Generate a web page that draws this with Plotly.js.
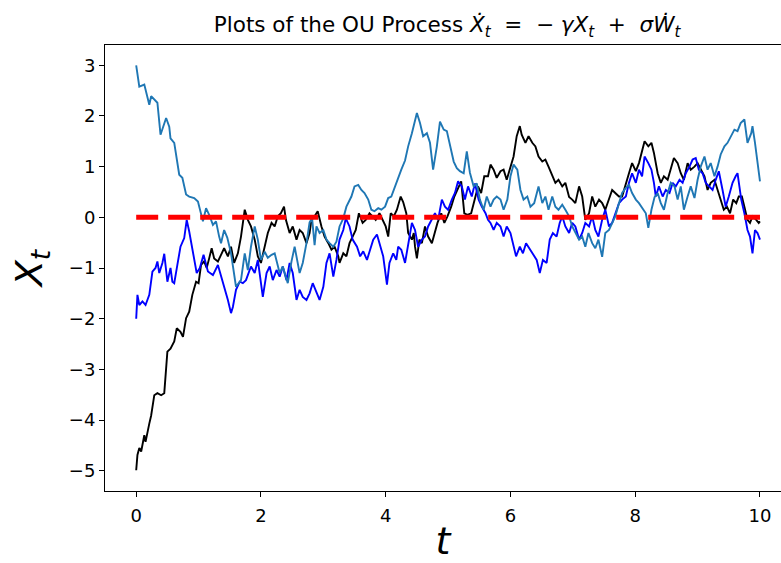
<!DOCTYPE html>
<html>
<head>
<meta charset="utf-8">
<script src="https://cdn.plot.ly/plotly-3.0.1.min.js"></script>
<style>html,body{margin:0;padding:0;background:#fff;}#chart{width:781px;height:563px;}</style>
</head>
<body>
<div id="chart"></div>
<script>
// Path started at X0 = -5 (black)
const tBlack = [0,0.02,0.05,0.08,0.13,0.15,0.21,0.24,0.29,0.34,0.40,0.45,0.50,0.55,0.61,0.65,0.71,0.75,0.80,0.85,0.90,0.96,1.00,1.04,1.09,1.13,1.17,1.21,1.25,1.31,1.36,1.41,1.47,1.52,1.57,1.63,1.68,1.71,1.74,1.79,1.84,1.90,1.95,2.00,2.06,2.11,2.17,2.22,2.27,2.32,2.37,2.40,2.46,2.51,2.57,2.62,2.67,2.73,2.78,2.81,2.86,2.91,2.97,3.02,3.08,3.13,3.18,3.24,3.26,3.32,3.37,3.42,3.47,3.52,3.57,3.63,3.68,3.74,3.79,3.84,3.90,3.95,4.00,4.04,4.08,4.13,4.18,4.24,4.28,4.33,4.36,4.42,4.45,4.47,4.50,4.54,4.58,4.63,4.68,4.74,4.78,4.83,4.89,4.94,4.99,5.05,5.10,5.15,5.21,5.26,5.31,5.37,5.42,5.48,5.53,5.58,5.64,5.68,5.73,5.78,5.84,5.89,5.94,6.00,6.05,6.10,6.15,6.18,6.24,6.29,6.35,6.40,6.45,6.51,6.56,6.61,6.67,6.72,6.77,6.83,6.88,6.94,6.99,7.04,7.10,7.15,7.20,7.26,7.31,7.36,7.42,7.47,7.52,7.58,7.63,7.68,7.74,7.79,7.85,7.90,7.95,8.01,8.06,8.11,8.15,8.21,8.26,8.30,8.36,8.41,8.46,8.52,8.57,8.62,8.68,8.73,8.78,8.84,8.89,8.95,9.00,9.05,9.11,9.16,9.21,9.27,9.32,9.37,9.42,9.47,9.52,9.57,9.62,9.66,9.71,9.75,9.80,9.84,9.88,9.94,9.98,10.0];
const xBlack = [-4.99,-4.69,-4.55,-4.62,-4.30,-4.43,-4.07,-3.91,-3.51,-3.47,-3.51,-3.47,-2.65,-2.59,-2.45,-2.19,-2.26,-2.36,-1.99,-1.86,-1.53,-1.27,-1.30,-0.94,-0.87,-1.00,-0.81,-0.61,-0.81,-0.87,-0.74,-0.61,-0.77,-0.58,-0.90,-0.71,-0.38,-0.05,0.15,-0.05,-0.18,-0.44,-0.77,-0.90,-0.58,-0.31,-0.11,-0.18,0.02,0.08,0.21,-0.05,-0.31,-0.18,-0.44,-0.25,-0.31,-0.51,-0.31,-0.05,0.02,0.12,-0.18,-0.38,-0.51,-0.64,-0.58,-0.77,-0.90,-0.71,-0.77,-0.51,-0.38,-0.25,0.08,-0.11,-0.05,0.08,0.02,-0.05,0.08,-0.05,-0.18,-0.38,0.08,0.02,0.15,0.41,0.30,0.08,-0.31,-0.44,-0.31,-0.58,-0.81,-0.44,-0.51,-0.18,-0.38,-0.51,-0.31,-0.11,0.08,-0.11,0.02,0.21,0.41,0.54,0.71,0.08,0.05,0.08,0.35,0.61,0.48,0.81,0.81,1.04,0.94,0.78,0.91,0.94,0.74,1.00,1.20,1.60,1.80,1.63,1.47,1.60,1.47,1.40,1.20,1.10,1.14,1.00,0.81,0.68,0.74,0.61,0.68,0.40,0.35,0.28,0.61,0.41,-0.05,0.08,0.41,0.21,0.35,0.28,0.15,0.35,0.54,0.48,0.41,0.41,0.68,0.87,1.07,0.91,1.07,1.33,1.50,1.40,1.47,1.27,0.87,0.68,0.81,0.74,0.94,1.17,1.07,0.87,0.74,1.07,0.94,1.00,1.07,0.94,0.81,0.54,0.68,0.74,0.54,0.35,0.15,0.21,0.08,0.35,0.28,0.41,0.41,0.21,-0.05,-0.11,0.02,-0.05,-0.11,-0.08];

// Path started at X0 = -2 (blue)
const tBlue = [0,0.01,0.02,0.05,0.10,0.15,0.21,0.26,0.31,0.34,0.37,0.42,0.45,0.50,0.55,0.58,0.61,0.66,0.71,0.77,0.81,0.85,0.90,0.93,0.97,1.02,1.08,1.15,1.23,1.31,1.36,1.41,1.47,1.52,1.55,1.60,1.66,1.71,1.76,1.84,1.90,1.95,2.00,2.03,2.09,2.14,2.19,2.25,2.30,2.35,2.41,2.46,2.51,2.57,2.62,2.67,2.73,2.78,2.83,2.89,2.94,3.00,3.05,3.10,3.16,3.21,3.26,3.32,3.36,3.42,3.47,3.54,3.59,3.64,3.70,3.75,3.80,3.86,3.91,3.96,4.02,4.06,4.12,4.17,4.20,4.25,4.31,4.36,4.42,4.47,4.52,4.58,4.63,4.68,4.74,4.79,4.84,4.90,4.95,5.00,5.06,5.11,5.16,5.22,5.27,5.32,5.38,5.43,5.49,5.54,5.60,5.64,5.68,5.73,5.78,5.84,5.89,5.94,6.00,6.05,6.09,6.15,6.20,6.25,6.32,6.38,6.42,6.47,6.52,6.58,6.63,6.68,6.74,6.79,6.83,6.88,6.94,6.99,7.04,7.10,7.15,7.20,7.26,7.31,7.36,7.41,7.47,7.52,7.58,7.63,7.68,7.74,7.79,7.85,7.90,7.95,8.01,8.06,8.11,8.15,8.21,8.26,8.30,8.33,8.38,8.44,8.49,8.55,8.60,8.65,8.71,8.76,8.81,8.87,8.92,8.97,9.02,9.08,9.13,9.18,9.24,9.29,9.34,9.40,9.45,9.50,9.56,9.61,9.64,9.67,9.70,9.75,9.80,9.84,9.88,9.92,9.96,10.0];
const xBlue = [-2.00,-1.80,-1.53,-1.73,-1.66,-1.73,-1.53,-1.07,-1.00,-0.87,-1.10,-0.90,-0.72,-1.27,-1.00,-1.27,-1.30,-0.94,-0.58,-0.41,-0.05,-0.28,-0.61,-0.81,-1.10,-1.00,-0.74,-1.07,-1.14,-0.94,-1.14,-1.37,-1.63,-1.89,-1.77,-1.43,-1.27,-1.30,-1.24,-0.97,-1.10,-0.84,-1.37,-1.57,-1.10,-0.97,-1.24,-1.04,-1.17,-0.97,-1.24,-0.90,-1.10,-1.63,-1.43,-1.57,-1.63,-1.50,-1.30,-1.50,-1.63,-1.37,-0.90,-0.71,-1.17,-0.84,-0.44,-0.25,-0.02,-0.18,-0.44,-0.58,-0.77,-0.67,-0.84,-0.64,-0.44,-0.34,-0.58,-0.77,-1.33,-0.90,-0.71,-0.84,-0.58,-0.64,-0.90,-0.51,-0.11,-0.25,-0.58,-0.44,-0.38,-0.18,-0.05,0.08,-0.05,0.35,0.21,0.15,0.35,0.48,0.71,0.61,0.35,0.61,0.41,0.67,0.35,0.21,0.08,-0.05,-0.11,-0.25,-0.11,-0.18,-0.38,-0.18,-0.31,-0.58,-0.77,-0.58,-0.71,-0.51,-0.64,-0.77,-0.84,-1.10,-0.84,-0.90,-0.44,-0.31,-0.38,-0.11,0.02,-0.18,-0.31,-0.11,-0.18,-0.44,-0.31,-0.11,-0.18,0.02,-0.25,-0.38,-0.05,0.15,-0.18,-0.11,0.08,0.28,0.35,0.41,0.68,0.87,0.68,0.94,0.81,1.20,1.07,0.94,0.68,0.41,0.61,0.41,0.54,0.48,0.68,0.61,0.74,0.68,0.87,1.00,1.14,1.17,0.94,0.87,0.68,0.61,0.54,0.74,0.91,0.54,0.21,0.41,0.68,0.81,0.87,0.61,0.35,0.08,-0.25,-0.38,-0.71,-0.25,-0.31,-0.44];

// Path started at X0 = 3 (default colour)
const tLight = [0,0.05,0.13,0.16,0.21,0.24,0.34,0.39,0.48,0.53,0.55,0.61,0.66,0.69,0.74,0.80,0.85,0.93,0.99,1.07,1.12,1.17,1.23,1.28,1.33,1.36,1.41,1.46,1.52,1.60,1.68,1.74,1.79,1.84,1.90,1.95,2.00,2.06,2.11,2.17,2.22,2.30,2.35,2.43,2.49,2.54,2.62,2.67,2.73,2.78,2.82,2.86,2.89,2.94,3.00,3.05,3.10,3.16,3.21,3.26,3.32,3.37,3.45,3.50,3.56,3.61,3.66,3.72,3.77,3.82,3.88,3.93,3.99,4.04,4.09,4.15,4.20,4.25,4.31,4.36,4.42,4.47,4.50,4.55,4.60,4.66,4.71,4.76,4.82,4.87,4.93,4.98,5.03,5.09,5.14,5.19,5.25,5.30,5.35,5.41,5.46,5.51,5.57,5.62,5.68,5.73,5.78,5.84,5.89,5.95,6.00,6.05,6.11,6.16,6.21,6.27,6.32,6.38,6.45,6.51,6.56,6.61,6.67,6.72,6.77,6.83,6.88,6.94,6.99,7.04,7.10,7.15,7.20,7.25,7.31,7.36,7.41,7.47,7.52,7.58,7.63,7.68,7.74,7.79,7.85,7.90,7.95,8.01,8.06,8.11,8.17,8.21,8.26,8.31,8.36,8.41,8.46,8.52,8.57,8.63,8.68,8.73,8.78,8.84,8.89,8.95,9.00,9.05,9.11,9.16,9.21,9.27,9.32,9.37,9.43,9.48,9.53,9.59,9.64,9.69,9.75,9.80,9.86,9.88,9.92,9.96,10.0];
const xLight = [3.00,2.58,2.62,2.49,2.22,2.39,2.26,1.63,1.96,1.79,1.56,1.47,1.04,0.84,0.78,0.45,0.41,0.38,0.31,-0.08,0.18,0.05,-0.15,-0.08,-0.38,-0.51,-0.25,-0.40,-0.71,-1.37,-1.24,-0.71,-1.04,-0.58,-0.18,-0.44,-0.84,-0.68,-0.80,-0.74,-0.71,-1.10,-0.97,-1.30,-0.87,-0.58,-1.10,-0.90,-0.51,-0.10,-0.02,-0.55,-0.18,-0.31,-0.25,-0.44,-0.51,-0.58,-0.48,-0.18,-0.02,0.21,0.41,0.61,0.64,0.54,0.48,0.35,0.15,0.12,0.18,0.15,0.21,0.38,0.41,0.61,0.81,0.94,1.12,1.40,1.66,1.93,2.06,1.86,1.60,1.66,1.47,0.94,1.40,1.89,1.73,1.70,1.40,1.10,0.97,0.91,0.87,1.30,0.88,0.61,0.67,0.35,0.15,0.41,0.21,0.35,0.41,0.35,0.15,0.35,0.81,1.04,0.94,0.54,0.35,0.41,0.21,0.28,0.61,0.28,0.41,0.15,0.41,0.21,0.15,0.25,0.15,0.02,-0.18,-0.31,-0.44,-0.38,-0.58,-0.31,-0.51,-0.61,-0.44,-0.78,-0.31,-0.25,-0.11,0.02,0.28,0.48,0.58,0.64,0.48,0.35,0.28,0.18,0.08,-0.21,0.15,0.40,0.48,0.28,0.15,0.48,0.68,0.61,0.35,0.61,0.15,0.41,0.61,0.38,0.74,1.00,1.20,0.94,1.07,0.81,1.00,1.24,1.40,1.47,1.60,1.73,1.70,1.86,1.93,1.47,1.66,1.80,1.47,1.14,0.71];

// Long-run mean
const tMean = [0, 10];
const xMean = [0, 0];

const traces = [
  {x: tBlack, y: xBlack, type: 'scatter', mode: 'lines', line: {color: '#000000', width: 1.9}, hoverinfo: 'skip'},
  {x: tBlue, y: xBlue, type: 'scatter', mode: 'lines', line: {color: '#0000ff', width: 1.9}, hoverinfo: 'skip'},
  {x: tLight, y: xLight, type: 'scatter', mode: 'lines', line: {color: '#1f77b4', width: 1.9}, hoverinfo: 'skip'},
  {x: tMean, y: xMean, type: 'scatter', mode: 'lines', line: {color: '#ff0000', width: 5, dash: '22px,10px'}, hoverinfo: 'skip'}
];

const font = 'DejaVu Sans, sans-serif';
const layout = {
  width: 781, height: 563,
  margin: {l: 105, r: 0, t: 45, b: 72, pad: 0},
  paper_bgcolor: '#ffffff', plot_bgcolor: '#ffffff',
  showlegend: false,
  font: {family: font, color: '#000000', size: 18},
  title: {
    text: 'Plots of the OU Process <i>Ẋ</i><sub><i>t</i></sub>&nbsp; =&nbsp; −&nbsp;<i>γX</i><sub><i>t</i></sub>&nbsp; +&nbsp; <i>σẆ</i><sub><i>t</i></sub>',
    font: {family: font, size: 21.5, color: '#000000'},
    x: 0.506, xref: 'paper', xanchor: 'center',
    y: 1, yref: 'paper', yanchor: 'bottom', pad: {b: 13}
  },
  xaxis: {
    range: [-0.5, 10.337], dtick: 2, tick0: 0,
    showgrid: false, zeroline: false,
    showline: true, linecolor: '#000000', linewidth: 1, mirror: true,
    ticks: 'outside', ticklen: 5, tickwidth: 1, tickcolor: '#000000',
    ticklabelstandoff: 3,
    tickfont: {family: font, size: 18, color: '#000000'},
    title: {text: '<i>t</i>', font: {family: font, size: 38, color: '#000000'}, standoff: 8}
  },
  yaxis: {
    range: [-5.4, 3.4], dtick: 1, tick0: 0,
    showgrid: false, zeroline: false,
    showline: true, linecolor: '#000000', linewidth: 1, mirror: false,
    ticks: 'outside', ticklen: 5, tickwidth: 1, tickcolor: '#000000',
    ticklabelstandoff: 0,
    tickfont: {family: font, size: 18, color: '#000000'},
    title: {text: '<i>X</i><sub><i>t</i></sub>', font: {family: font, size: 38, color: '#000000'}, standoff: 14}
  }
};

Plotly.newPlot('chart', traces, layout, {displayModeBar: false, staticPlot: true});
</script>
</body>
</html>
